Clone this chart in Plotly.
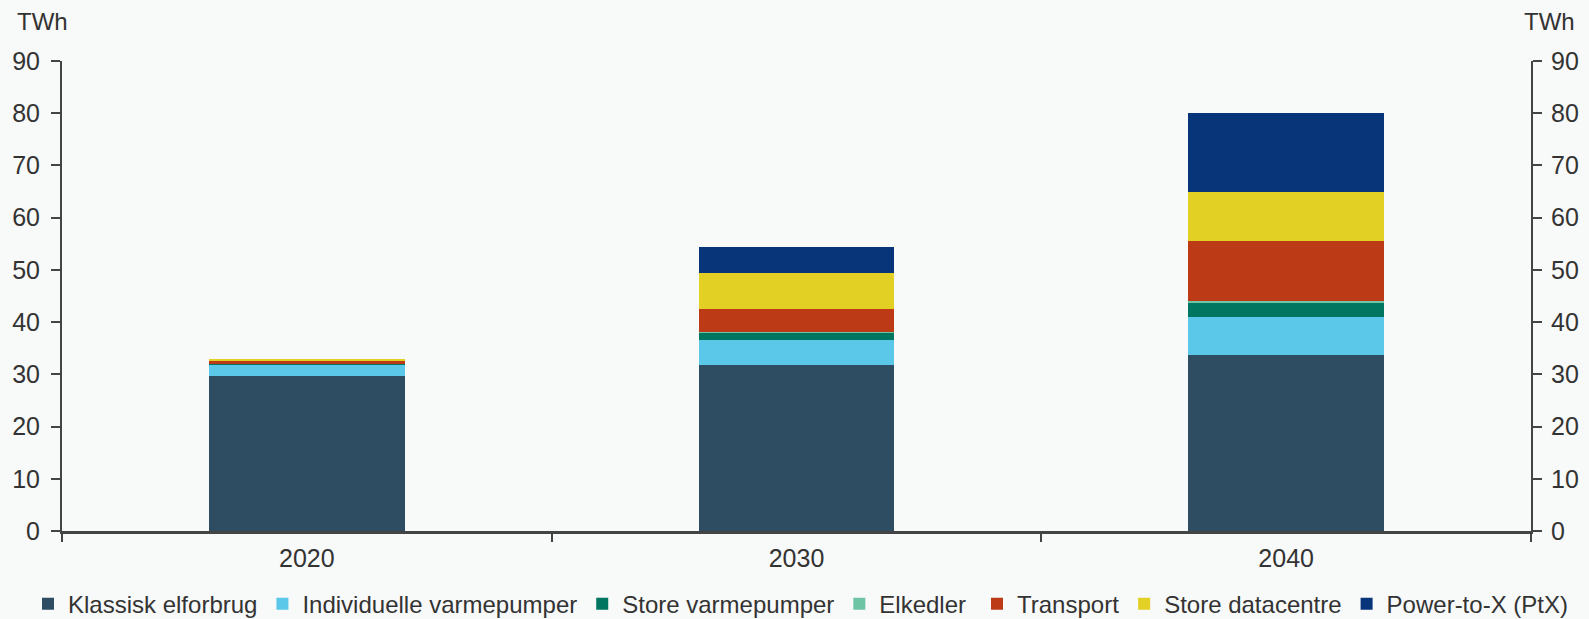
import plotly.graph_objects as go

years = ["2020", "2030", "2040"]
series_names = ["Klassisk elforbrug", "Individuelle varmepumper", "Store varmepumper",
                "Elkedler", "Transport", "Store datacentre", "Power-to-X (PtX)"]
klassisk = [29.7, 31.75, 33.7]
individuelle = [2.2, 4.8, 7.3]
store_varme = [0.1, 1.4, 2.8]
elkedler = [0.0, 0.2, 0.2]
transport = [0.5, 4.3, 11.5]
datacentre = [0.45, 6.9, 9.5]
ptx = [0.0, 5.1, 15.1]
y_ticks = [0, 10, 20, 30, 40, 50, 60, 70, 80, 90]

colors = ["#2e4d63", "#5bc8ea", "#007560", "#6cc4a4", "#bc3b16", "#e2d025", "#08357a"]
values = [klassisk, individuelle, store_varme, elkedler, transport, datacentre, ptx]
legend_ids = ["legend", "legend", "legend", "legend", "legend2", "legend2", "legend2"]

FONT = "Liberation Sans, Arial, sans-serif"
BG = "#f8f9f9"
TXT = "#333333"

fig = go.Figure()
for name, vals, col, lg in zip(series_names, values, colors, legend_ids):
    fig.add_trace(go.Bar(x=years, y=vals, name=name, marker=dict(color=col, line=dict(width=0)),
                         width=0.4, legend=lg))
# invisible trace so the right axis is drawn
fig.add_trace(go.Scatter(x=years, y=[0, 0, 0], yaxis="y2", mode="markers",
                         marker=dict(opacity=0), showlegend=False, hoverinfo="skip"))

axis_common = dict(range=[0, 90], tickvals=y_ticks, showgrid=False, zeroline=False,
                   showline=True, linecolor="#444444", linewidth=2, ticks="outside",
                   ticklen=9, tickwidth=2, tickcolor="#444444", automargin=False,
                   tickfont=dict(size=25, color=TXT, family=FONT))

legend_common = dict(orientation="h", xref="container", xanchor="left",
                     yref="container", y=0.024, yanchor="middle",
                     font=dict(size=24, color=TXT, family=FONT), traceorder="normal",
                     itemwidth=30, bgcolor="rgba(0,0,0,0)")

fig.update_layout(
    barmode="stack",
    width=1589, height=619,
    margin=dict(l=62, r=58, t=61, b=88),
    paper_bgcolor=BG, plot_bgcolor=BG,
    font=dict(family=FONT, color=TXT),
    xaxis=dict(type="category", showline=True, linecolor="#444444", linewidth=2.5,
               ticks="outside", tickson="boundaries", ticklen=8, tickwidth=2, tickcolor="#444444",
               automargin=False, ticklabelstandoff=3,
               tickfont=dict(size=25, color=TXT, family=FONT), showgrid=False),
    yaxis=dict(**axis_common, ticklabelstandoff=6),
    yaxis2=dict(overlaying="y", side="right", **axis_common, ticklabelstandoff=4),
    legend=dict(**legend_common, x=28 / 1589),
    legend2=dict(**legend_common, x=977 / 1589),
    annotations=[
        dict(text="TWh", xref="paper", yref="paper", x=0, y=1, xshift=-47, yshift=40,
             xanchor="left", yanchor="middle", showarrow=False,
             font=dict(size=24, color=TXT, family=FONT)),
        dict(text="TWh", xref="paper", yref="paper", x=1, y=1, xshift=46, yshift=40,
             xanchor="right", yanchor="middle", showarrow=False,
             font=dict(size=24, color=TXT, family=FONT)),
    ],
)

fig.write_html("out.html", config={"displayModeBar": False},
               post_script="document.body.style.margin='0px';document.body.style.overflow='hidden';")
